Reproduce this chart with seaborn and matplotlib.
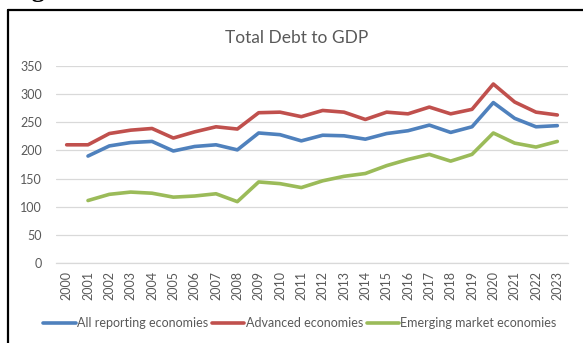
import matplotlib
matplotlib.use("Agg")
import matplotlib.pyplot as plt
from matplotlib.lines import Line2D
import seaborn as sns
import pandas as pd
import numpy as np

years = list(range(2000, 2024))
all_reporting = [np.nan, 190, 208, 214, 216, 199, 207, 210, 201, 231, 228, 217, 227, 226, 220,
                 230, 235, 245, 232, 242, 285, 257, 242, 244]
advanced = [210, 210, 230, 236, 239, 222, 233, 242, 238, 267, 268, 260, 271, 268, 255,
            268, 265, 277, 265, 273, 318, 286, 268, 263]
emerging = [np.nan, 111, 122, 126, 124, 117, 119, 123, 109, 144, 141, 134, 146, 154, 159,
            173, 184, 193, 181, 193, 231, 213, 206, 216]
series_names = ["All reporting economies", "Advanced economies", "Emerging market economies"]
colors = ["#4F81BD", "#C0504D", "#9BBB59"]
yticks = [0, 50, 100, 150, 200, 250, 300, 350]

df = pd.DataFrame({
    "Year": years * 3,
    "Value": all_reporting + advanced + emerging,
    "Series": [series_names[0]] * 24 + [series_names[1]] * 24 + [series_names[2]] * 24,
})
df = df.dropna()

sns.set_theme(style="white")
plt.rcParams["font.family"] = ["Lato", "DejaVu Sans"]

W, H = 583, 343
fig = plt.figure(figsize=(W / 100, H / 100), dpi=100)
ax = fig.add_axes([56 / W, 1 - 263 / H, (568 - 56) / W, (263 - 66) / H])

sns.lineplot(data=df, x="Year", y="Value", hue="Series", hue_order=series_names,
             palette=colors, linewidth=2.6, ax=ax, legend=False)

ax.set_xlim(years[0] - 0.5, years[-1] + 0.5)
ax.set_ylim(0, 350)
ax.set_yticks(yticks)
ax.set_xticks(years)
ax.set_xticklabels([str(y) for y in years], rotation=90)
ax.set_xlabel("")
ax.set_ylabel("")
ax.grid(axis="y", color="#D9D9D9", linewidth=0.9)
ax.grid(axis="x", visible=False)
for s in ["left", "right", "top"]:
    ax.spines[s].set_visible(False)
ax.spines["bottom"].set_color("#D9D9D9")
ax.spines["bottom"].set_linewidth(0.9)
ax.tick_params(axis="y", length=0, pad=10, labelsize=9, labelcolor="#595959")
ax.tick_params(axis="x", length=0, pad=6, labelsize=9, labelcolor="#595959")

fig.text(297 / W, 1 - 38 / H, "Total Debt to GDP", ha="center", va="center",
         fontsize=12.5, color="#595959")

handles = [Line2D([0], [0], color=c, linewidth=2.6) for c in colors]
fig.legend(handles, series_names, loc="center", bbox_to_anchor=(300 / W, 1 - 323 / H),
           ncol=3, frameon=False, fontsize=9, labelcolor="#595959",
           handlelength=2.6, handletextpad=0.1, columnspacing=0.3)

# outer frame (left and top edges)
fig.add_artist(Line2D([8 / W, 8 / W], [0, 1 - 10 / H], color="black", linewidth=1.6,
                      transform=fig.transFigure))
fig.add_artist(Line2D([8 / W, 1], [1 - 10 / H, 1 - 10 / H], color="black", linewidth=1.6,
                      transform=fig.transFigure))

fig.text(8 / W, 1 + 3 / H, "Figure 1", ha="left", va="baseline", fontsize=19,
         fontweight="bold", family=["Liberation Serif", "DejaVu Serif"], color="black")

fig.savefig("out.png", dpi=100)
